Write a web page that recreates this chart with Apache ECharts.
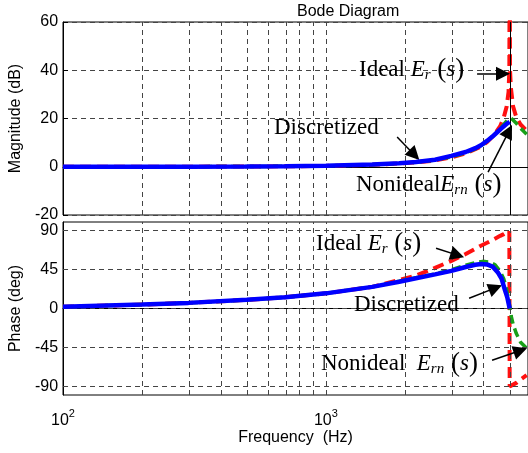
<!DOCTYPE html>
<html>
<head>
<meta charset="utf-8">
<script src="https://cdn.jsdelivr.net/npm/echarts@6/dist/echarts.min.js"></script>
<style>
html, body { margin: 0; padding: 0; background: #fff; }
#chart { width: 528px; height: 453px; }
</style>
</head>
<body>
<div id="chart"></div>
<script>
// Ideal E_r(s)
var idealFreq  = [100, 200, 300, 500, 700, 1000, 1500, 1900, 2200, 2600, 3000, 3400, 3850, 4100, 4350, 4600, 4750, 4870, 4950, 4985, 5000, 5000, 5015, 5050, 5150, 5300, 5500, 5800];
var idealMag   = [0, 0, 0.03, 0.1, 0.2, 0.35, 0.8, 1.35, 1.8, 2.6, 3.9, 5.5, 8.1, 10.2, 13, 16.8, 20.5, 25, 31, 40, 90, 90, 40, 33, 25, 20.5, 17.5, 15];
var idealPhase = [2, 4.5, 6.5, 10, 13, 17.5, 25, 33, 38, 47, 55, 63, 72, 76, 80, 84, 86, 88, 89.3, 89.8, 90, -90, -90, -89.5, -88, -86, -82, -77];

// Nonideal E_rn(s)
var nonFreq  = [100, 200, 300, 500, 700, 1000, 1500, 1900, 2200, 2600, 3000, 3400, 3700, 3950, 4200, 4400, 4600, 4750, 4870, 4950, 5000, 5060, 5150, 5300, 5500, 5800];
var nonMag   = [0, 0, 0.03, 0.1, 0.2, 0.35, 0.85, 1.4, 1.9, 2.8, 4.1, 5.8, 7.4, 9.2, 11.5, 13.5, 15.8, 17.6, 19, 19.9, 20.3, 20.1, 19.4, 18, 16, 13.5];
var nonPhase = [2, 4.5, 6.5, 10, 13, 17.5, 25, 31.5, 35.5, 40, 45, 50, 53, 54.5, 53.5, 50.5, 43, 34, 22, 11, 3, -8, -18, -29, -39, -46];

// Discretized
var discFreq  = [100, 200, 300, 500, 700, 1000, 1500, 1900, 2200, 2600, 3000, 3400, 3700, 3900, 4100, 4300, 4500, 4650, 4800, 4900, 4960, 5000];
var discMag   = [0, 0.03, 0.05, 0.1, 0.22, 0.4, 0.9, 1.5, 2, 2.9, 4.5, 6.1, 7.7, 9, 10.7, 12.5, 14.5, 15.9, 17.2, 18, 18.4, 18.6];
var discPhase = [2, 4.5, 6.5, 10, 13, 17.5, 25, 31, 35, 39.5, 43.5, 48, 50.5, 51.5, 51, 48.5, 42, 35, 21, 12.5, 5, 0];

var magTicks = [-20, 0, 20, 40, 60];
var phaseTicks = [-90, -45, 0, 45, 90];
var freqGrid = [200, 300, 400, 500, 600, 700, 800, 900, 1000, 2000, 3000, 4000, 5000];
var freqMin = 100, freqMax = 5870;

// frequency axis is a value axis over log10(f)
function lg(f) { return Math.log10(f); }
function pairs(f, v) {
    return f.map(function (x, i) { return [lg(x), v[i]]; });
}

var gridDash = { color: '#444', type: [5, 4], width: 1 };

// annotation arrows, [tail, head] as [Hz, value]
var magArrows = [
    [[3758, 38.5], [4716, 38.5]],
    [[1866, 12.3], [2171, 4.9]],
    [[4138, -2.2], [4963, 14.7]]
];
var phaseArrows = [
    [[2624, 69.7], [3164, 61.7]],
    [[3505, 11.9], [4416, 23.9]],
    [[4285, -59.8], [5493, -48.6]]
];

function arrowLines(list) {
    return list.map(function (a) {
        return [{ coord: [lg(a[0][0]), a[0][1]] }, { coord: [lg(a[1][0]), a[1][1]] }];
    });
}

var serifRich = {
    n: { fontFamily: 'Liberation Serif', fontSize: 23, color: '#000' },
    i: { fontFamily: 'Liberation Serif', fontStyle: 'italic', fontSize: 23, color: '#000' },
    sub: { fontFamily: 'Liberation Serif', fontStyle: 'italic', fontSize: 15, color: '#000', padding: [12, 0, 0, 0] },
    p: { fontFamily: 'Liberation Serif', fontSize: 27, color: '#000' }
};

function label(x, y, text) {
    return {
        type: 'text', left: x, top: y, z: 100,
        style: { text: text, rich: serifRich }
    };
}

var chart = echarts.init(document.getElementById('chart'));

var xBase = {
    type: 'value',
    min: lg(freqMin),
    max: lg(freqMax),
    interval: 1,
    axisLine: { show: true, lineStyle: { color: '#000', width: 1 } },
    axisTick: { show: false },
    splitLine: { show: false }
};

chart.setOption({
    backgroundColor: '#fff',
    animation: false,
    graphic: [
        {
            type: 'text', left: 297, top: 4,
            style: { text: 'Bode Diagram', fontFamily: 'Liberation Sans', fontSize: 16, fill: '#000', textAlign: 'center' }
        },
        label(359, 56, '{n|Ideal }{i|E}{sub|r}{p| (}{i|s}{p|)}'),
        label(274, 116, '{n|Discretized}'),
        label(356, 171, '{n|Nonideal}{i|E}{sub|rn}{p| (}{i|s}{p|)}'),
        label(316, 230, '{n|Ideal }{i|E}{sub|r}{p| (}{i|s}{p|)}'),
        label(354, 293, '{n|Discretized}'),
        label(321, 350, '{n|Nonideal  }{i|E}{sub|rn}{p| (}{i|s}{p|)}')
    ],
    grid: [
        { left: 62, top: 22, width: 466, height: 193, show: true, borderColor: '#000', borderWidth: 1 },
        { left: 62, top: 222, width: 466, height: 173, show: true, borderColor: '#000', borderWidth: 1 }
    ],
    xAxis: [
        Object.assign({}, xBase, { gridIndex: 0, axisLabel: { show: false } }),
        Object.assign({}, xBase, {
            gridIndex: 1,
            name: 'Frequency  (Hz)',
            nameLocation: 'middle',
            nameGap: 34,
            nameTextStyle: { fontFamily: 'Liberation Sans', fontSize: 16, color: '#000' },
            axisLabel: {
                margin: 10,
                showMaxLabel: false,
                formatter: function (v) {
                    if (Math.abs(v - Math.round(v)) > 1e-6) return '';
                    return '{b|10}{s|' + Math.round(v) + '}';
                },
                rich: {
                    b: { fontFamily: 'Liberation Sans', fontSize: 16, color: '#000', padding: [8, 0, 0, 0] },
                    s: { fontFamily: 'Liberation Sans', fontSize: 11, color: '#000', padding: [0, 0, 6, 0] }
                }
            }
        })
    ],
    yAxis: [
        {
            gridIndex: 0, type: 'value', min: -20, max: 60, interval: 20,
            name: 'Magnitude (dB)', nameLocation: 'middle', nameGap: 35,
            nameTextStyle: { fontFamily: 'Liberation Sans', fontSize: 16, color: '#000' },
            axisLine: { show: true, lineStyle: { color: '#000' } },
            axisTick: { show: true, inside: true, length: 5, lineStyle: { color: '#000' } },
            axisLabel: { margin: 5, fontFamily: 'Liberation Sans', fontSize: 16, color: '#000' },
            splitLine: { show: true, lineStyle: gridDash }
        },
        {
            gridIndex: 1, type: 'value', min: -100, max: 100,
            name: 'Phase (deg)', nameLocation: 'middle', nameGap: 35,
            nameTextStyle: { fontFamily: 'Liberation Sans', fontSize: 16, color: '#000' },
            axisLine: { show: true, lineStyle: { color: '#000' } },
            axisTick: { show: true, inside: true, length: 5, customValues: phaseTicks, lineStyle: { color: '#000' } },
            axisLabel: { margin: 5, customValues: phaseTicks, fontFamily: 'Liberation Sans', fontSize: 16, color: '#000' },
            splitLine: { show: false }
        }
    ],
    series: [
        {
            type: 'line', xAxisIndex: 0, yAxisIndex: 0, data: [], z: 1, silent: true,
            markLine: {
                silent: true, symbol: 'none', label: { show: false }, animation: false,
                lineStyle: gridDash,
                data: freqGrid.map(function (f) {
                    if (f === 5000) return { xAxis: lg(f), lineStyle: { type: 'solid', color: '#000', width: 1 } };
                    return { xAxis: lg(f) };
                })
            }
        },
        {
            type: 'line', xAxisIndex: 1, yAxisIndex: 1, data: [], z: 1, silent: true,
            markLine: {
                silent: true, symbol: 'none', label: { show: false }, animation: false,
                lineStyle: gridDash,
                data: freqGrid.map(function (f) { return { xAxis: lg(f) }; })
                    .concat(phaseTicks.map(function (p) { return { yAxis: p }; }))
            }
        },
        // magnitude
        {
            name: 'Ideal', type: 'line', xAxisIndex: 0, yAxisIndex: 0, z: 3,
            showSymbol: false, symbol: 'none', clip: true,
            lineStyle: { color: '#ff1010', width: 4, type: [11, 6] },
            data: pairs(idealFreq, idealMag)
        },
        {
            name: 'Nonideal', type: 'line', xAxisIndex: 0, yAxisIndex: 0, z: 4,
            showSymbol: false, symbol: 'none', clip: true,
            lineStyle: { color: '#18a018', width: 3.5, type: [9, 5] },
            data: pairs(nonFreq, nonMag)
        },
        {
            name: 'Discretized', type: 'line', xAxisIndex: 0, yAxisIndex: 0, z: 5,
            showSymbol: false, symbol: 'none', clip: true,
            lineStyle: { color: '#0000ff', width: 4.5 },
            data: pairs(discFreq, discMag)
        },
        // phase
        {
            name: 'Ideal', type: 'line', xAxisIndex: 1, yAxisIndex: 1, z: 3,
            showSymbol: false, symbol: 'none', clip: true,
            lineStyle: { color: '#ff1010', width: 4, type: [11, 6] },
            data: pairs(idealFreq, idealPhase)
        },
        {
            name: 'Nonideal', type: 'line', xAxisIndex: 1, yAxisIndex: 1, z: 4,
            showSymbol: false, symbol: 'none', clip: true,
            lineStyle: { color: '#18a018', width: 3.5, type: [9, 5] },
            data: pairs(nonFreq, nonPhase)
        },
        {
            name: 'Discretized', type: 'line', xAxisIndex: 1, yAxisIndex: 1, z: 5,
            showSymbol: false, symbol: 'none', clip: true,
            lineStyle: { color: '#0000ff', width: 4.5 },
            data: pairs(discFreq, discPhase)
        },
        // arrows
        {
            type: 'line', xAxisIndex: 0, yAxisIndex: 0, data: [], z: 10, silent: true,
            markLine: {
                silent: true, symbol: ['none', 'triangle'], symbolSize: 14, label: { show: false },
                lineStyle: { color: '#000', width: 1.5, type: 'solid' },
                itemStyle: { color: '#000' },
                data: arrowLines(magArrows)
            }
        },
        {
            type: 'line', xAxisIndex: 1, yAxisIndex: 1, data: [], z: 10, silent: true,
            markLine: {
                silent: true, symbol: ['none', 'triangle'], symbolSize: 14, label: { show: false },
                lineStyle: { color: '#000', width: 1.5, type: 'solid' },
                itemStyle: { color: '#000' },
                data: arrowLines(phaseArrows)
            }
        }
    ]
});
</script>
</body>
</html>
